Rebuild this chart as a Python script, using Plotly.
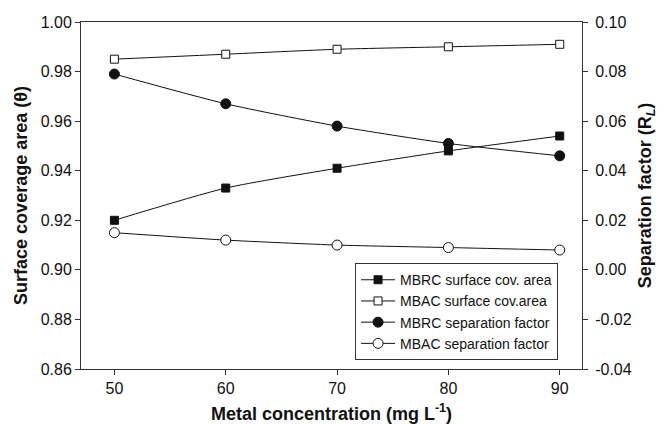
import plotly.graph_objects as go

# Metal concentration (mg/L)
concentration = [50, 60, 70, 80, 90]

# Surface coverage area (theta), left axis
mbrc_coverage = [0.920, 0.933, 0.941, 0.948, 0.954]
mbac_coverage = [0.985, 0.987, 0.989, 0.990, 0.991]

# Separation factor (R_L), right axis
mbrc_separation = [0.079, 0.067, 0.058, 0.051, 0.046]
mbac_separation = [0.015, 0.012, 0.010, 0.009, 0.008]

# Tick values and labels (hyphen-minus for negative labels)
left_ticks = [0.86, 0.88, 0.90, 0.92, 0.94, 0.96, 0.98, 1.00]
right_ticks = [-0.04, -0.02, 0.00, 0.02, 0.04, 0.06, 0.08, 0.10]
right_tick_labels = ["-0.04", "-0.02", "0.00", "0.02", "0.04", "0.06", "0.08", "0.10"]

FONT = "Liberation Sans, Arial, sans-serif"
INK = "#111111"

fig = go.Figure()

common_line = dict(color=INK, width=1, shape="spline", smoothing=0.6)

fig.add_trace(go.Scatter(
    x=concentration, y=mbrc_coverage, name="MBRC surface cov. area",
    mode="lines+markers", line=common_line,
    marker=dict(symbol="square", size=8, color=INK, line=dict(color=INK, width=1)),
    yaxis="y",
))
fig.add_trace(go.Scatter(
    x=concentration, y=mbac_coverage, name="MBAC surface cov.area",
    mode="lines+markers", line=common_line,
    marker=dict(symbol="square", size=8, color="white", line=dict(color=INK, width=1)),
    yaxis="y",
))
fig.add_trace(go.Scatter(
    x=concentration, y=mbrc_separation, name="MBRC separation factor",
    mode="lines+markers", line=common_line,
    marker=dict(symbol="circle", size=10, color=INK, line=dict(color=INK, width=1)),
    yaxis="y2",
))
fig.add_trace(go.Scatter(
    x=concentration, y=mbac_separation, name="MBAC separation factor",
    mode="lines+markers", line=common_line,
    marker=dict(symbol="circle", size=10, color="white", line=dict(color=INK, width=1)),
    yaxis="y2",
))

axis_style = dict(
    showline=True, linecolor="#333333", linewidth=1,
    ticks="outside", ticklen=5, tickwidth=1, tickcolor="#333333",
    showgrid=False, zeroline=False, automargin=False,
    tickfont=dict(family=FONT, size=16, color=INK),
)

fig.update_layout(
    width=658, height=424,
    margin=dict(l=81, r=76, t=22, b=55),
    paper_bgcolor="white", plot_bgcolor="white",
    font=dict(family=FONT, color=INK),
    showlegend=True,
    legend=dict(
        x=0.547, y=0.305, xanchor="left", yanchor="top",
        bgcolor="white", bordercolor="#333333", borderwidth=1,
        font=dict(family=FONT, size=14, color=INK),
        tracegroupgap=0, itemwidth=34,
    ),
    xaxis=dict(
        **axis_style, mirror=True,
        range=[47, 92], tickvals=concentration,
        title=dict(text="<b>Metal concentration (mg L<sup>-1</sup>)</b>",
                   font=dict(family=FONT, size=18, color=INK), standoff=14),
    ),
    yaxis=dict(
        **axis_style,
        range=[0.86, 1.00], tickvals=left_ticks, tickformat=".2f",
        title=dict(text="<b>Surface coverage area (θ)</b>",
                   font=dict(family=FONT, size=18, color=INK), standoff=8),
    ),
    yaxis2=dict(
        **axis_style,
        overlaying="y", side="right",
        range=[-0.04, 0.10], tickvals=right_ticks, ticktext=right_tick_labels,
        ticklabelstandoff=4,
        title=dict(text="<b>Separation factor (R<sub><i>L</i></sub>)</b>",
                   font=dict(family=FONT, size=18, color=INK), standoff=16),
    ),
)

fig.write_html("out.html")
